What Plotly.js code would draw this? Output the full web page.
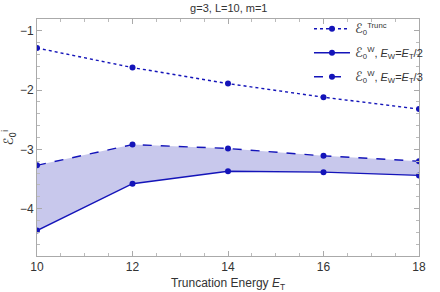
<!DOCTYPE html>
<html><head><meta charset="utf-8">
<script src="https://cdn.plot.ly/plotly-3.0.1.min.js"></script>
<style>html,body{margin:0;padding:0;background:#fff}</style>
</head><body><div id="chart" style="width:440px;height:292px"></div>
<script>
const energies = [10, 12, 14, 16, 18];
const eTrunc = [-1.29, -1.62, -1.89, -2.12, -2.32];
const eWhalf = [-4.37, -3.58, -3.37, -3.385, -3.44];
const eWthird = [-3.27, -2.92, -2.985, -3.11, -3.20];
const xTicks = [10, 12, 14, 16, 18];
const yTicks = [-1, -2, -3, -4];

const blue = 'rgb(20,20,185)';
const E = '<span style="font-family:DejaVu Sans;font-size:13px"><i>ℰ</i></span>';
const traces = [
  {x: energies, y: eTrunc, mode: 'lines+markers', name: E + '<sub>0</sub><sup>Trunc</sup>',
   line: {color: blue, width: 1.4, dash: 'dot'}, marker: {color: blue, size: 6},
   legendgroup: 'g1', legendrank: 1},
  {x: energies, y: eWthird, mode: 'lines+markers', name: E + '<sub>0</sub><sup>W</sup>, <i>E</i><sub>W</sub>=<i>E</i><sub>T</sub>/3',
   line: {color: blue, width: 1.4, dash: 'dash'}, marker: {color: blue, size: 6},
   legendgroup: 'g3', legendrank: 3},
  {x: energies, y: eWhalf, mode: 'lines', showlegend: false, hoverinfo: 'skip',
   line: {color: 'rgba(0,0,0,0)', width: 0},
   fill: 'tonexty', fillcolor: 'rgba(200,200,236,1)', legendgroup: 'g2'},
  {x: energies, y: eWhalf, mode: 'lines+markers', name: E + '<sub>0</sub><sup>W</sup>, <i>E</i><sub>W</sub>=<i>E</i><sub>T</sub>/2',
   line: {color: blue, width: 1.4}, marker: {color: blue, size: 6},
   legendgroup: 'g2', legendrank: 2}
];

const axisCommon = {
  showgrid: false, zeroline: false, showline: true, linecolor: '#aaa', linewidth: 1,
  mirror: 'ticks', ticks: 'inside', ticklen: 5, tickcolor: '#aaa',
  tickfont: {family: 'Liberation Sans, Arial, sans-serif', size: 12, color: '#333'}
};

const layout = {
  width: 440, height: 292,
  margin: {l: 37, r: 19, t: 19, b: 36},
  paper_bgcolor: '#fff', plot_bgcolor: '#fff',
  title: {text: 'g=3, L=10, m=1', x: 0.52, xanchor: 'center', y: 0.972, yanchor: 'middle',
          font: {family: 'Liberation Sans, Arial, sans-serif', size: 11, color: '#333'}},
  xaxis: Object.assign({}, axisCommon, {
    range: [10, 18], tickvals: xTicks, ticktext: xTicks.map(String),
    minor: {dtick: 0.5, ticklen: 3, tickcolor: '#bbb', ticks: 'inside'},
    title: {text: 'Truncation Energy <i>E</i><sub>T</sub>', standoff: 6,
            font: {family: 'Liberation Sans, Arial, sans-serif', size: 12, color: '#333'}}
  }),
  yaxis: Object.assign({}, axisCommon, {
    range: [-4.8, -0.8], tickvals: yTicks, ticktext: yTicks.map(v => '−' + Math.abs(v)),
    minor: {dtick: 0.2, ticklen: 3, tickcolor: '#bbb', ticks: 'inside'},
    title: {text: E + '<sub>0</sub><sup>i</sup>', standoff: 6,
            font: {family: 'DejaVu Sans, sans-serif', size: 12, color: '#333'}}
  }),
  showlegend: true,
  legend: {x: 0.712, y: 1.02, xanchor: 'left', yanchor: 'top', bgcolor: 'rgba(0,0,0,0)',
           traceorder: 'grouped', tracegroupgap: 5, itemwidth: 36,
           font: {family: 'Liberation Sans, Arial, sans-serif', size: 11, color: '#333'}}
};

Plotly.newPlot('chart', traces, layout, {displayModeBar: false, staticPlot: true});
</script></body></html>
